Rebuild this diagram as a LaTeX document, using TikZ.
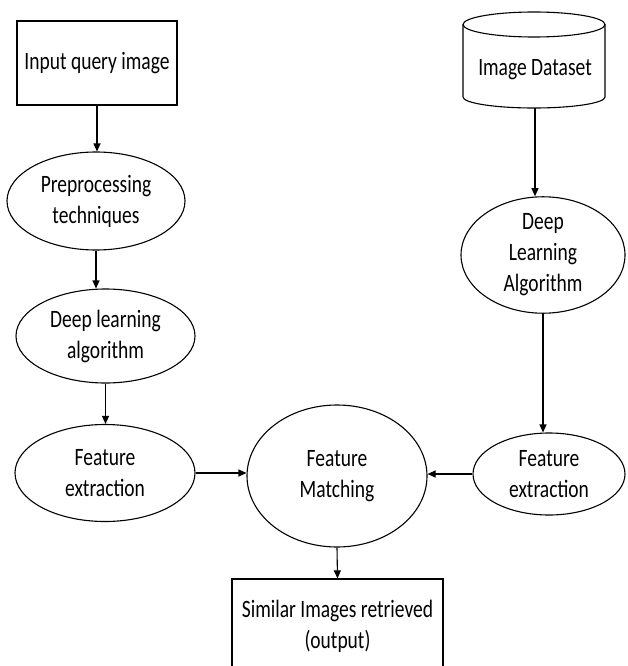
\documentclass[tikz,border=0pt]{standalone}
\usepackage{fontspec}
\setmainfont[FakeStretch=0.78]{Carlito}
\usetikzlibrary{arrows.meta,shapes.geometric}

\begin{document}
\begin{tikzpicture}[x=1pt, y=-1pt,
    every node/.style={font=\fontsize{25}{31}\selectfont, align=center, inner sep=0pt},
    box/.style={draw, line width=1.2pt, rectangle},
    oval/.style={draw, line width=1.1pt, ellipse},
    flow/.style={-{Triangle[length=8pt,width=7pt]}, line width=1.1pt}]
  \useasboundingbox (0,0) rectangle (627,666);
  % Query branch (left column)
  \node[box, minimum width=160pt, minimum height=84pt] (query) at (97,63) {Input query image};
  \node[oval, minimum width=178pt, minimum height=98pt] (pre) at (96,201) {Preprocessing\\techniques};
  \node[oval, minimum width=179pt, minimum height=94pt] (dlq) at (105.5,336) {Deep learning\\algorithm};
  \node[oval, minimum width=180pt, minimum height=97pt] (fxq) at (105,473) {Feature\\extraction};
  % Dataset branch (right column): drum drawn round the label
  \node[minimum width=142pt, minimum height=96pt, text height=31pt, text depth=0pt] (data) at (535,60) {Image Dataset};
  \draw[line width=1.1pt] (534,24.5) ellipse [x radius=71, y radius=12.5];
  \draw[line width=1.1pt] (463,24.5) -- (463,97) arc[start angle=180, end angle=0, x radius=71, y radius=11] -- (605,24.5);
  \node[oval, minimum width=164pt, minimum height=116pt] (dld) at (543,255) {Deep\\Learning\\Algorithm};
  \node[oval, minimum width=152pt, minimum height=82pt] (fxd) at (549,474) {Feature\\extraction};
  % Matching and output
  \node[oval, minimum width=180pt, minimum height=142pt] (match) at (337,476) {Feature\\Matching};
  \node[box, minimum width=211pt, minimum height=94pt] (out) at (337.5,626) {Similar Images retrieved\\(output)};
  % Connectors
  \draw[flow] (query.south) -- (query.south |- pre.north);
  \draw[flow] (pre.south) -- (pre.south |- dlq.north);
  \draw[flow] (dlq.south) -- (dlq.south |- fxq.north);
  \draw[flow] (fxq.east) -- (fxq.east -| match.west);
  \draw[flow] (data.south) -- (data.south |- dld.north);
  \draw[flow] (dld.south) -- (dld.south |- fxd.north);
  \draw[flow] (fxd.west) -- (fxd.west -| match.east);
  \draw[flow] (match.south) -- (out.north);
\end{tikzpicture}
\end{document}
